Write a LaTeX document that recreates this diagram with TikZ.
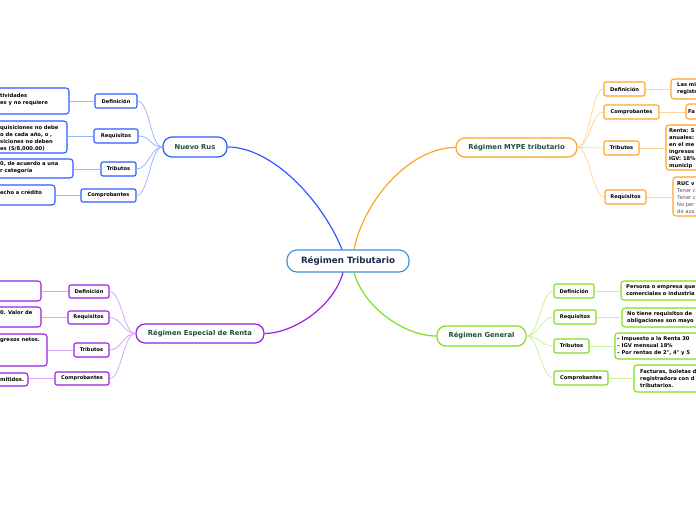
\documentclass[tikz,border=0pt]{standalone}
\usepackage{fontspec}
\setmainfont{DejaVu Sans}
\definecolor{rootc}{HTML}{3F8FD8}
\definecolor{roottext}{HTML}{1A2B4C}
\definecolor{maintext}{HTML}{1F4E3D}
\definecolor{bB}{HTML}{2A5CFF}
\definecolor{bL}{HTML}{9DB6FF}
\definecolor{oB}{HTML}{FFA524}
\definecolor{oL}{HTML}{FFD49A}
\definecolor{pB}{HTML}{9A1EE8}
\definecolor{pL}{HTML}{D9A3F6}
\definecolor{gB}{HTML}{7DE01C}
\definecolor{gL}{HTML}{C6F29C}
\definecolor{greytext}{HTML}{555555}
\tikzset{
  rootnode/.style={draw=rootc, line width=1.1pt, fill=white, rounded corners=10pt,
    minimum width=122pt, minimum height=22pt, inner sep=0pt,
    font=\fontsize{8.7}{10}\selectfont\bfseries, text=roottext},
  mainnode/.style={draw=#1, line width=1.2pt, fill=white, rounded corners=9pt,
    minimum height=20pt, inner sep=0pt,
    font=\fontsize{6.8}{8}\selectfont\bfseries, text=maintext},
  subnode/.style={draw=#1, line width=1.1pt, fill=white, rounded corners=2pt,
    minimum height=14pt, inner sep=0pt,
    font=\fontsize{5.1}{6}\selectfont\bfseries, text=black},
  leafbox/.style={draw=#1, line width=1.1pt, fill=white, rounded corners=3pt, inner sep=0pt},
  leaftext/.style={font=\fontsize{5.2}{7}\selectfont\bfseries, align=left, inner sep=0pt,
    anchor=west, text=black},
  trunk/.style={draw=#1, line width=1.2pt},
  twig/.style={draw=#1, line width=0.8pt}
}
\begin{document}
\begin{tikzpicture}[x=1pt,y=-1pt]
\useasboundingbox (0,0) rectangle (696,520);

% root
\node[rootnode] (root) at (348,261) {Régimen Tributario};

% ---------- Nuevo Rus (blue) ----------
\node[mainnode=bB, minimum width=64pt] (nr) at (195,147) {Nuevo Rus};
\node[subnode=bB, minimum width=42pt] (nrdef) at (116,101) {Definición};
\node[subnode=bB, minimum width=44pt] (nrreq) at (116,136) {Requisitos};
\node[subnode=bB, minimum width=35pt] (nrtri) at (118.5,169) {Tributos};
\node[subnode=bB, minimum width=55pt, minimum height=13pt] (nrcom) at (108.5,195.5) {Comprobantes};

\node[leafbox=bB, minimum width=99pt, minimum height=26pt] (nrl1) at (19.5,101) {};
\node[leaftext] (nrt1) at (0,99.5) {tividades\\es y no requiere};
\node[leafbox=bB, minimum width=97pt, minimum height=32pt] (nrl2) at (18.5,137) {};
\node[leaftext] (nrt2) at (0,138) {quisiciones no debe\\o de cada año, o ,\\siciones no deben\\es (S/8,000.00)};
\node[leafbox=bB, minimum width=103pt, minimum height=19pt] (nrl3) at (21.5,168.5) {};
\node[leaftext] (nrt3) at (0,167.5) {0, de acuerdo a una\\r categoría};
\node[leafbox=bB, minimum width=85pt, minimum height=20pt] (nrl4) at (12.5,195) {};
\node[leaftext] (nrt4) at (0,192) {echo a crédito};

% ---------- Especial de Renta (purple) ----------
\node[mainnode=pB, minimum width=128pt, minimum height=19pt] (rer) at (200,333.5) {Régimen Especial de Renta};
\node[subnode=pB, minimum width=40pt, minimum height=13pt] (rerdef) at (89,291.5) {Definición};
\node[subnode=pB, minimum width=41pt, minimum height=13pt] (rerreq) at (88.5,317.5) {Requisitos};
\node[subnode=pB, minimum width=35pt] (rertri) at (91.5,350) {Tributos};
\node[subnode=pB, minimum width=54pt, minimum height=13pt] (rercom) at (82,378.5) {Comprobantes};

\node[leafbox=pB, minimum width=71pt, minimum height=20pt] (rerl1) at (5.5,291) {};
\node[leafbox=pB, minimum width=71pt, minimum height=20pt] (rerl2) at (5.5,317) {};
\node[leaftext] (rert2) at (0,313) {0. Valor de};
\node[leafbox=pB, minimum width=77pt, minimum height=32pt] (rerl3) at (8.5,350) {};
\node[leaftext] (rert3) at (0,340) {gresos netos.};
\node[leafbox=pB, minimum width=58pt, minimum height=13pt] (rerl4) at (-1,379.5) {};
\node[leaftext] (rert4) at (0,379.5) {mitidos.};

% ---------- MYPE (orange) ----------
\node[mainnode=oB, minimum width=121pt, minimum height=19pt] (my) at (516.5,147.5) {Régimen MYPE tributario};
\node[subnode=oB, minimum width=41pt] (mydef) at (624.5,89) {Definición};
\node[subnode=oB, minimum width=55pt] (mycom) at (631.5,112) {Comprobantes};
\node[subnode=oB, minimum width=35pt] (mytri) at (621.5,148) {Tributos};
\node[subnode=oB, minimum width=41pt] (myreq) at (625.5,197) {Requisitos};

\node[leafbox=oB, minimum width=80pt, minimum height=20pt] (myl1) at (711,89) {};
\node[leaftext] (myt1) at (677,89) {Las mi\\registr};
\node[leafbox=oB, minimum width=80pt, minimum height=15pt] (myl2) at (726,111.5) {};
\node[leaftext] (myt2) at (688,112) {Fa};
\node[leafbox=oB, minimum width=80pt, minimum height=45pt] (myl3) at (706,147.5) {};
\node[leaftext] (myt3) at (669,148.5) {Renta: S\\anuales:\\en el me\\ingresos\\IGV: 18\%\\municip};
\node[leafbox=oB, minimum width=80pt, minimum height=39pt] (myl4) at (713,196.5) {};
\node[leaftext] (myt4) at (677,198) {RUC v\\{\mdseries\color{greytext}Tener c}\\{\mdseries\color{greytext}Tener c}\\{\mdseries\color{greytext}No per}\\{\mdseries\color{greytext}de aza}};

% ---------- General (green) ----------
\node[mainnode=gB, minimum width=89pt] (rg) at (481.5,336) {Régimen General};
\node[subnode=gB, minimum width=40pt] (rgdef) at (574,291) {Definición};
\node[subnode=gB, minimum width=42pt] (rgreq) at (575,317) {Requisitos};
\node[subnode=gB, minimum width=35pt] (rgtri) at (571.5,346) {Tributos};
\node[subnode=gB, minimum width=54pt] (rgcom) at (581,378) {Comprobantes};

\node[leafbox=gB, minimum width=100pt, minimum height=19pt] (rgl1) at (671,290.5) {};
\node[leaftext] (rgt1) at (626,290.5) {Persona o empresa que\\comerciales o industria};
\node[leafbox=gB, minimum width=100pt, minimum height=19pt] (rgl2) at (672,317.5) {};
\node[leaftext] (rgt2) at (627,317.5) {No tiene requisitos de\\obligaciones son mayo};
\node[leafbox=gB, minimum width=100pt, minimum height=26pt] (rgl3) at (665,346) {};
\node[leaftext] (rgt3) at (617,346) {– Impuesto a la Renta 30\\– IGV mensual 18\%\\– Por rentas de 2°, 4° y 5};
\node[leafbox=gB, minimum width=100pt, minimum height=27pt] (rgl4) at (684,378.5) {};
\node[leaftext] (rgt4) at (640,378.5) {Facturas, boletas d\\registradora con d\\tributarios.};

% ---------- trunks ----------
\draw[trunk=bB] ([xshift=-6pt]root.north) .. controls (322,200) and (272,147) .. (nr.east);
\draw[trunk=oB] ([xshift=6pt]root.north) .. controls (364,200) and (410,147.5) .. (my.west);
\draw[trunk=pB] ([xshift=-5pt]root.south) .. controls (333,308) and (292,333.5) .. (rer.east);
\draw[trunk=gB] ([xshift=6pt]root.south) .. controls (364,308) and (405,336) .. (rg.west);

% ---------- twigs to sub nodes ----------
\foreach \c in {nrdef,nrreq,nrtri,nrcom}
  \draw[twig=bL] (nr.west) .. controls +(-12,0) and +(12,0) .. (\c.east);
\foreach \c in {rerdef,rerreq,rertri,rercom}
  \draw[twig=pL] (rer.west) .. controls +(-12,0) and +(12,0) .. (\c.east);
\foreach \c in {mydef,mycom,mytri,myreq}
  \draw[twig=oL] (my.east) .. controls +(12,0) and +(-12,0) .. (\c.west);
\foreach \c in {rgdef,rgreq,rgtri,rgcom}
  \draw[twig=gL] (rg.east) .. controls +(12,0) and +(-12,0) .. (\c.west);

% ---------- twigs to leaves ----------
\draw[twig=bL] (nrdef.west) -- (nrl1.east |- nrdef.west);
\draw[twig=bL] (nrreq.west) -- (nrl2.east |- nrreq.west);
\draw[twig=bL] (nrtri.west) -- (nrl3.east |- nrtri.west);
\draw[twig=bL] (nrcom.west) -- (nrl4.east |- nrcom.west);
\draw[twig=pL] (rerdef.west) -- (rerl1.east |- rerdef.west);
\draw[twig=pL] (rerreq.west) -- (rerl2.east |- rerreq.west);
\draw[twig=pL] (rertri.west) -- (rerl3.east |- rertri.west);
\draw[twig=pL] (rercom.west) -- (rerl4.east |- rercom.west);
\draw[twig=oL] (mydef.east) -- (myl1.west |- mydef.east);
\draw[twig=oL] (mycom.east) -- (myl2.west |- mycom.east);
\draw[twig=oL] (mytri.east) -- (myl3.west |- mytri.east);
\draw[twig=oL] (myreq.east) -- (myl4.west |- myreq.east);
\draw[twig=gL] (rgdef.east) -- (rgl1.west |- rgdef.east);
\draw[twig=gL] (rgreq.east) -- (rgl2.west |- rgreq.east);
\draw[twig=gL] (rgtri.east) -- (rgl3.west |- rgtri.east);
\draw[twig=gL] (rgcom.east) -- (rgl4.west |- rgcom.east);
\end{tikzpicture}
\end{document}
